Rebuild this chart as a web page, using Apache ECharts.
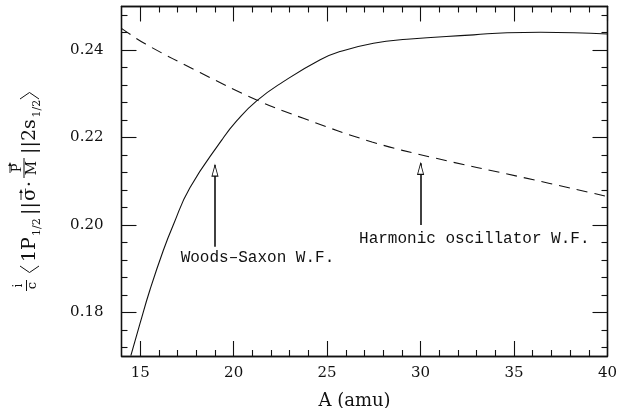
<!DOCTYPE html>
<html>
<head>
<meta charset="utf-8">
<script src="https://cdn.jsdelivr.net/npm/echarts@6/dist/echarts.min.js"></script>
<style>
  html, body { margin: 0; padding: 0; background: #fff; }
  #chart { width: 634px; height: 408px; }
</style>
</head>
<body>
<div id="chart"></div>
<script>
// Reduced matrix element versus mass number A, Woods-Saxon wave functions
const wsA   = [14.50, 14.98, 15.52, 16.23, 16.77, 17.66, 19.36, 20.16, 21.23, 22.66, 24.63, 25.70, 27.48, 29.27, 32.84, 34.63, 36.42, 38.20, 40.00];
const wsVal = [0.1701, 0.1773, 0.1851, 0.1941, 0.2000, 0.2085, 0.2194, 0.2238, 0.2284, 0.2328, 0.2378, 0.2397, 0.2416, 0.2425, 0.2435, 0.2440, 0.2441, 0.2440, 0.2437];

// Same quantity, harmonic oscillator wave functions
const hoA   = [14.00, 15.29, 18.20, 21.23, 23.73, 27.40, 30.68, 35.34, 40.00];
const hoVal = [0.2450, 0.2414, 0.2349, 0.2286, 0.2244, 0.2190, 0.2154, 0.2110, 0.2065];

// Axis ticks
const xMajorTicks = [15, 20, 25, 30, 35, 40];
const xMinorTicks = [16, 17, 18, 19, 21, 22, 23, 24, 26, 27, 28, 29, 31, 32, 33, 34, 36, 37, 38, 39];
const yMajorTicks = [0.18, 0.20, 0.22, 0.24];
const yMinorTicks = [0.172, 0.176, 0.184, 0.188, 0.192, 0.196, 0.204, 0.208, 0.212, 0.216,
                     0.224, 0.228, 0.232, 0.236, 0.244, 0.248];

// Annotation arrows: position on A, tail value, tip value, caption
const arrowA    = [19, 30];
const arrowTail = [0.1950, 0.2000];
const arrowTip  = [0.2137, 0.2141];
const arrowText = ['Woods\u2013Saxon W.F.', 'Harmonic oscillator W.F.'];

const INK = '#111';
const SERIF = '"DejaVu Serif", serif';
const MONO = '"Liberation Mono", monospace';

function xAxisDef(position, ticks, len, withLabels) {
  return {
    type: 'value', position: position, min: 14, max: 40,
    name: withLabels ? 'A (amu)' : '',
    nameLocation: 'middle', nameGap: 36,
    nameTextStyle: { fontFamily: SERIF, fontSize: 18, color: INK, padding: [0, 20, 0, 0] },
    axisLine: { show: true, lineStyle: { color: INK, width: 1.3 } },
    axisTick: { show: true, inside: true, length: len, customValues: ticks, lineStyle: { color: INK, width: 1.1 } },
    axisLabel: { show: withLabels, customValues: xMajorTicks, margin: 10,
                 fontFamily: SERIF, fontSize: 15, color: INK },
    splitLine: { show: false }
  };
}
function yAxisDef(position, ticks, len, withLabels) {
  return {
    type: 'value', position: position, min: 0.17, max: 0.25,
    axisLine: { show: true, lineStyle: { color: INK, width: 1.3 } },
    axisTick: { show: true, inside: true, length: len, customValues: ticks, lineStyle: { color: INK, width: 1.1 } },
    axisLabel: { show: withLabels, customValues: yMajorTicks, margin: 18,
                 formatter: function (v) { return v.toFixed(2); },
                 fontFamily: SERIF, fontSize: 15, color: INK },
    splitLine: { show: false }
  };
}

// y-axis title: (i/c) <1P_{1/2} || sigma . P/M || 2s_{1/2}>, drawn in a rotated group
function txt(s, lx, ly, size, align) {
  return { type: 'text', x: lx, y: ly,
    style: { text: s, font: size + 'px ' + SERIF, fill: INK,
             align: align || 'left', textAlign: align || 'left',
             verticalAlign: 'middle', textVerticalAlign: 'middle' } };
}
function seg(pts, w) {
  return { type: 'polyline', shape: { points: pts }, style: { stroke: INK, lineWidth: w || 1, fill: null } };
}
function vecArrow(x0, x1, ly) {
  return [
    seg([[x0, ly], [x1, ly]], 0.9),
    { type: 'polygon', shape: { points: [[x1 + 2, ly], [x1 - 2, ly - 1.8], [x1 - 2, ly + 1.8]] }, style: { fill: INK } }
  ];
}
const titleParts = [
  txt('i', 7.5, -18, 12, 'center'),
  seg([[2, -10.5], [13, -10.5]], 1),
  txt('c', 7.5, -4.5, 13, 'center'),
  seg([[27, -17], [20.5, -7.5], [27, 2]], 1),
  txt('1P', 31, -6.6, 19),
  txt('1/2', 57, 0, 11),
  txt('||', 78, -6.6, 19),
  txt('\u03c3', 92, -6.6, 19),
  ...vecArrow(93, 102, -16),
  txt('\u00b7', 106, -6.6, 19),
  seg([[115, -13], [135, -13]], 1),
  txt('P', 125, -19.5, 13, 'center'),
  ...vecArrow(120, 129, -27),
  txt('M', 125, -4.9, 14, 'center'),
  txt('||', 139, -6.6, 19),
  txt('2s', 152, -6.6, 19),
  txt('1/2', 175.5, 0, 11),
  seg([[194, -17], [200.5, -7.5], [194, 2]], 1)
];

const chart = echarts.init(document.getElementById('chart'), null, { renderer: 'canvas' });

const arrowShafts = arrowA.map(function (a, i) {
  return [{ coord: [a, arrowTail[i]] }, { coord: [a, arrowTip[i]] }];
});
const arrowHeads = arrowA.map(function (a, i) {
  return {
    coord: [a, arrowTip[i]],
    symbol: 'path://M5,0 L10,18 L0,18 Z', symbolSize: [6, 11], symbolOffset: [0, 5.5],
    itemStyle: { color: '#fff', borderColor: INK, borderWidth: 1 }
  };
});
const captionOffsets = [[42.5, 11], [53.7, 14]];
const captions = arrowA.map(function (a, i) {
  return {
    coord: [a, arrowTail[i]], symbol: 'circle', symbolSize: 0,
    label: { show: true, position: 'inside', offset: captionOffsets[i], formatter: arrowText[i],
             fontFamily: MONO, fontSize: 16, color: INK }
  };
});

chart.setOption({
  animation: false,
  backgroundColor: '#fff',
  grid: { left: 121.5, right: 26.5, top: 6.5, bottom: 52, containLabel: false, outerBoundsMode: 'none' },
  xAxis: [
    xAxisDef('bottom', xMajorTicks, 15, true),
    xAxisDef('top', xMajorTicks, 15, false),
    xAxisDef('bottom', xMinorTicks, 6, false),
    xAxisDef('top', xMinorTicks, 6, false)
  ],
  yAxis: [
    yAxisDef('left', yMajorTicks, 15, true),
    yAxisDef('right', yMajorTicks, 15, false),
    yAxisDef('left', yMinorTicks, 6, false),
    yAxisDef('right', yMinorTicks, 6, false)
  ],
  graphic: [{
    type: 'group', x: 37, y: 293, rotation: Math.PI / 2,
    children: titleParts
  }],
  series: [
    {
      name: 'Woods-Saxon', type: 'line', xAxisIndex: 0, yAxisIndex: 0,
      data: wsA.map(function (a, i) { return [a, wsVal[i]]; }),
      showSymbol: false, smooth: 0.5, clip: true,
      lineStyle: { color: INK, width: 1.1 },
      markLine: {
        silent: true, symbol: ['none', 'none'],
        lineStyle: { color: INK, width: 1.6, type: 'solid' },
        label: { show: false },
        data: arrowShafts
      },
      markPoint: { silent: true, z: 10, data: arrowHeads.concat(captions) }
    },
    {
      name: 'Harmonic oscillator', type: 'line', xAxisIndex: 0, yAxisIndex: 0,
      data: hoA.map(function (a, i) { return [a, hoVal[i]]; }),
      showSymbol: false, smooth: 0.4, clip: true,
      lineStyle: { color: INK, width: 1.1, type: [11, 7] }
    }
  ]
});
</script>
</body>
</html>
